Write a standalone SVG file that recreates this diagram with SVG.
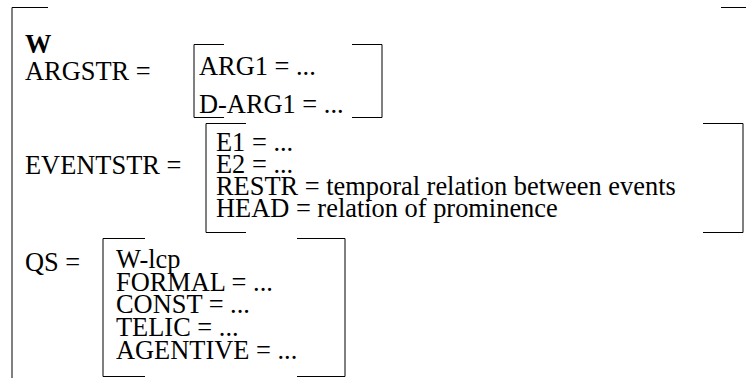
<svg xmlns="http://www.w3.org/2000/svg" width="746" height="378" viewBox="0 0 746 378">
<style>
text{font-family:"Liberation Serif","Times New Roman",serif;font-size:26.4px;fill:#000}
.b{font-weight:bold}
.br{fill:none;stroke:#000;stroke-width:1}
</style>
<rect width="746" height="378" fill="#fff"/>
<g id="outer">
<path class="br" d="M48 7.5H12V378"/>
<path class="br" d="M721 7.5H747V378"/>
<text class="b" x="25" y="53">W</text>
</g>
<g id="argstr">
<text x="25" y="80">ARGSTR =</text>
<path class="br" d="M224 44.5H194V117.5H224"/>
<path class="br" d="M352 44.5H382V117.5H352"/>
<text x="199" y="75">ARG1 = ...</text>
<text x="199" y="113">D-ARG1 = ...</text>
</g>
<g id="eventstr">
<text x="25" y="174">EVENTSTR =</text>
<path class="br" d="M246 123.5H206V232.5H246"/>
<path class="br" d="M703 123.5H743V232.5H703"/>
<text x="216" y="151">E1 = ...</text>
<text x="216" y="173">E2 = ...</text>
<text x="216" y="195">RESTR = temporal relation between events</text>
<text x="216" y="217">HEAD = relation of prominence</text>
</g>
<g id="qs">
<text x="25" y="271">QS =</text>
<path class="br" d="M145 238.5H103V376.5H145"/>
<path class="br" d="M297 238.5H345V376.5H297"/>
<text x="116" y="268">W-lcp</text>
<text x="116" y="291">FORMAL = ...</text>
<text x="116" y="313">CONST = ...</text>
<text x="116" y="336">TELIC = ...</text>
<text x="116" y="359">AGENTIVE = ...</text>
</g>
<g id="connectors"/>
</svg>
